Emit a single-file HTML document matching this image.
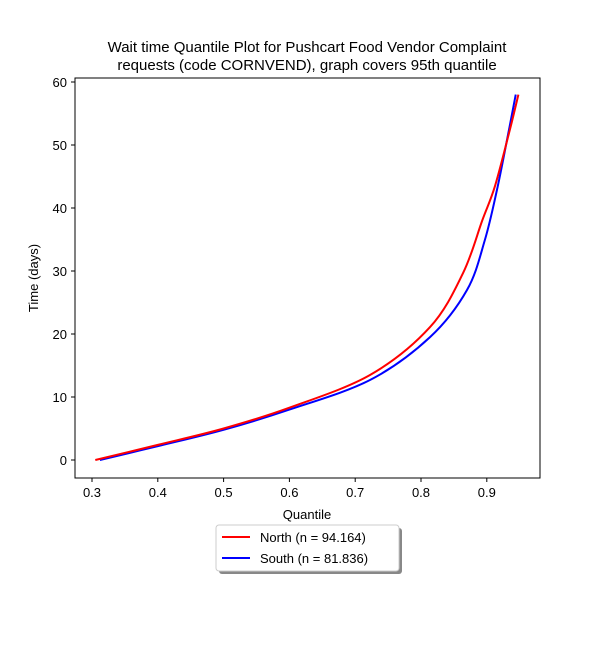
<!DOCTYPE html>
<html><head><meta charset="utf-8"><style>
body{margin:0;background:#fff;}
svg{font-family:"Liberation Sans","DejaVu Sans",sans-serif;}
</style></head><body>
<svg id="chart" width="600" height="650">
<text x="307" y="52" text-anchor="middle" font-size="15">Wait time Quantile Plot for Pushcart Food Vendor Complaint</text>
<text x="307" y="70" text-anchor="middle" font-size="15">requests (code CORNVEND), graph covers 95th quantile</text>
<g id="ticks"></g>
<g id="series"></g>
<rect x="75" y="78" width="465" height="400" fill="none" stroke="#000" stroke-width="1"/>
<text x="307" y="519" text-anchor="middle" font-size="13">Quantile</text>
<text x="38" y="278" text-anchor="middle" font-size="13" transform="rotate(-90 38 278)">Time (days)</text>
<g>
<rect x="219" y="528" width="183" height="46" rx="3" fill="#888"/>
<rect x="216" y="525" width="183" height="46" rx="3" fill="#fff" stroke="#ccc"/>
<line x1="222" y1="537" x2="250" y2="537" stroke="red" stroke-width="2"/>
<text x="260" y="542" font-size="13">North (n = 94.164)</text>
<line x1="222" y1="558" x2="250" y2="558" stroke="blue" stroke-width="2"/>
<text x="260" y="563" font-size="13">South (n = 81.836)</text>
</g>
</svg>
<script>
const xTicks=[0.3,0.4,0.5,0.6,0.7,0.8,0.9];
const yTicks=[0,10,20,30,40,50,60];
const northQ=[0.305,0.4,0.5,0.6,0.7225,0.8137,0.864,0.893,0.9125,0.935,0.948];
const northT=[0,2.4,5,8.3,13.5,21.1,29.7,38,43.5,52.4,58];
const southQ=[0.312,0.4,0.5,0.6,0.7225,0.8137,0.87,0.897,0.9155,0.932,0.944];
const southT=[0,2.2,4.8,8,12.7,19.5,27,34.9,42.9,51.5,58];
const sx=v=>92+(v-0.3)*658;
const sy=v=>460-v*6.3;
const NS='http://www.w3.org/2000/svg';
const tg=document.getElementById('ticks');
xTicks.forEach(t=>{
 const l=document.createElementNS(NS,'line');l.setAttribute('x1',sx(t));l.setAttribute('x2',sx(t));l.setAttribute('y1',478);l.setAttribute('y2',482);l.setAttribute('stroke','#000');
 
 
 tg.appendChild(l);
 const tx=document.createElementNS(NS,'text');tx.setAttribute('x',sx(t));tx.setAttribute('y',497);tx.setAttribute('text-anchor','middle');tx.setAttribute('font-size','13');tx.textContent=t;
 
 
 tg.appendChild(tx);
});
yTicks.forEach(t=>{
 const l=document.createElementNS(NS,'line');l.setAttribute('x1',71);l.setAttribute('x2',75);l.setAttribute('y1',sy(t));l.setAttribute('y2',sy(t));l.setAttribute('stroke','#000');
 
 
 tg.appendChild(l);
 const tx=document.createElementNS(NS,'text');tx.setAttribute('x',67);tx.setAttribute('y',sy(t)+5);tx.setAttribute('text-anchor','end');tx.setAttribute('font-size','13');tx.textContent=t;
 
 
 tg.appendChild(tx);
});
const sg=document.getElementById('series');
function draw(q,t,c,name){
 const P=q.map((v,i)=>[sx(v),sy(t[i])]);
 let d='M'+P[0][0]+','+P[0][1];
 for(let i=0;i<P.length-1;i++){
  const p0=P[Math.max(0,i-1)],p1=P[i],p2=P[i+1],p3=P[Math.min(P.length-1,i+2)];
  const c1=[p1[0]+(p2[0]-p0[0])/6,p1[1]+(p2[1]-p0[1])/6];
  const c2=[p2[0]-(p3[0]-p1[0])/6,p2[1]-(p3[1]-p1[1])/6];
  d+=' C'+c1[0]+','+c1[1]+' '+c2[0]+','+c2[1]+' '+p2[0]+','+p2[1];
 }
 const p=document.createElementNS(NS,'path');
 p.setAttribute('d',d);
 p.setAttribute('fill','none');p.setAttribute('stroke',c);p.setAttribute('stroke-width','2');
 
 
 sg.appendChild(p);
}
draw(southQ,southT,'blue','south-line');
draw(northQ,northT,'red','north-line');
</script>
</body></html>
